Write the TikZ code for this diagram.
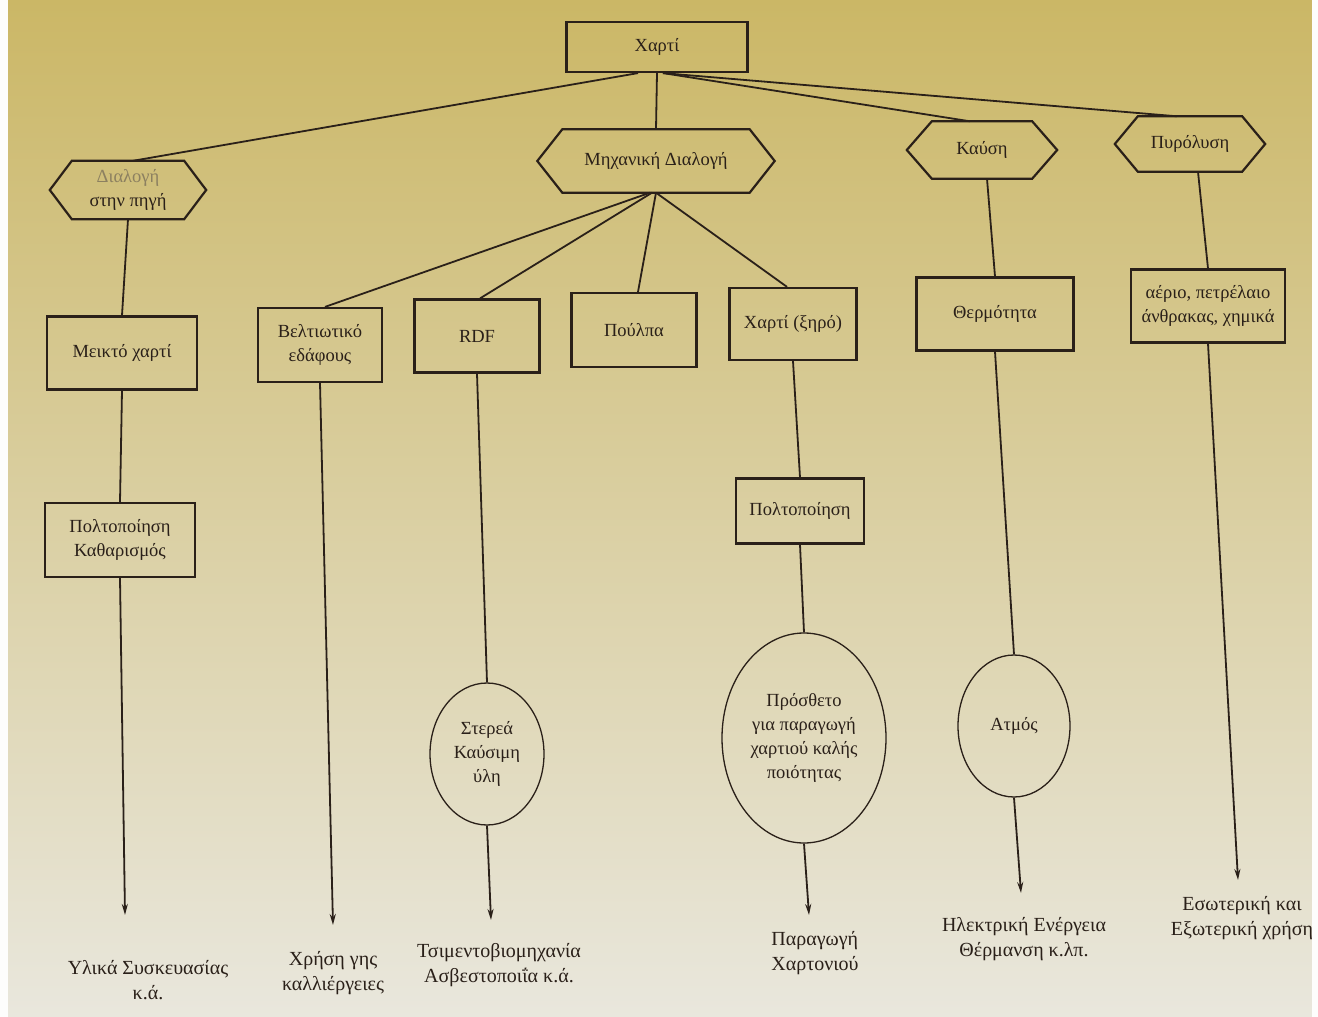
\documentclass[tikz,border=0pt]{standalone}
\usepackage{fontspec}
\setmainfont{Liberation Serif}
\usetikzlibrary{arrows.meta,calc,shapes.geometric}

\definecolor{ink}{HTML}{2A2019}
\definecolor{faded}{HTML}{8C8060}
\definecolor{paperTop}{HTML}{CBB766}
\definecolor{paperMid}{HTML}{DED28C}
\definecolor{paperBot}{HTML}{E9E7DD}

% hexagonal frame around a core node: #1 = node name, #2 = length of the side tips
\newcommand{\hexframe}[2]{%
  \draw[hexline] (#1.north west) -- (#1.north east) -- ($(#1.east)+(#2,0)$)
    -- (#1.south east) -- (#1.south west) -- ($(#1.west)+(-#2,0)$) -- cycle;}

\begin{document}
\begin{tikzpicture}[x=1pt,y=-1pt,
  label font/.style={font=\fontsize{18.5}{24}\selectfont},
  box/.style={draw=ink, line width=2.2pt, text=ink, align=center, inner sep=0pt, label font},
  hexcore/.style={text=ink, align=center, inner sep=0pt, label font},
  hexline/.style={draw=ink, line width=2.2pt, line join=miter},
  oval/.style={ellipse, draw=ink, line width=1.3pt, inner sep=0pt},
  ovaltext/.style={text=ink, align=center, inner sep=0pt, label font},
  link/.style={draw=ink, line width=1.8pt},
  flow/.style={link, -{Stealth[length=11pt,width=6pt]}},
  outcome/.style={text=ink, align=center, inner sep=0pt, font=\fontsize{20}{25}\selectfont}]

% paper sheet
\useasboundingbox (0,0) rectangle (1318,1017);
\shade[top color=paperTop, middle color=paperMid, bottom color=paperBot] (8,0) rectangle (1312,1017);
\fill[white!92!paperBot] (0,0) rectangle (8,1017);
\fill[white!92!paperBot] (1312,0) rectangle (1318,1017);

% top node
\node[box, minimum width=181pt, minimum height=50pt] (paper) at (657,47) {Χαρτί};

% process stages (hexagons)
\node[hexcore, minimum width=112pt, minimum height=58pt] (source) at (128,190)
  {\textcolor{faded}{Διαλογή}\\στην πηγή};
\hexframe{source}{22}
\node[hexcore, minimum width=187pt, minimum height=63pt] (mech) at (656,161) {Μηχανική Διαλογή};
\hexframe{mech}{25}
\node[hexcore, minimum width=100pt, minimum height=57pt] (burn) at (982,150) {Καύση};
\hexframe{burn}{25}
\node[hexcore, minimum width=104pt, minimum height=55pt] (pyro) at (1190,144) {Πυρόλυση};
\hexframe{pyro}{23}

% products (boxes)
\node[box, minimum width=150pt, minimum height=73pt] (mixed) at (122,353) {Μεικτό χαρτί};
\node[box, minimum width=150pt, minimum height=74pt] (clean) at (120,540) {Πολτοποίηση\\Καθαρισμός};
\node[box, minimum width=124pt, minimum height=74pt] (soil) at (320,345) {Βελτιωτικό\\εδάφους};
\node[box, minimum width=125pt, minimum height=73pt] (rdf) at (477,336) {RDF};
\node[box, minimum width=125pt, minimum height=74pt] (pulp) at (634,330) {Πούλπα};
\node[box, minimum width=127pt, minimum height=72pt] (dry) at (793,324) {Χαρτί (ξηρό)};
\node[box, minimum width=128pt, minimum height=65pt] (repulp) at (800,511) {Πολτοποίηση};
\node[box, minimum width=157pt, minimum height=73pt] (heat) at (995,314) {Θερμότητα};
\node[box, minimum width=154pt, minimum height=73pt] (fuels) at (1208,306) {αέριο, πετρέλαιο\\άνθρακας, χημικά};

% intermediate materials (ellipses)
\node[oval, minimum width=114pt, minimum height=142pt] (solid) at (487,754) {};
\node[ovaltext] (solidtxt) at (solid) {Στερεά\\Καύσιμη\\ύλη};
\node[oval, minimum width=164pt, minimum height=210pt] (additive) at (804,738) {};
\node[ovaltext] (additivetxt) at (additive) {Πρόσθετο\\για παραγωγή\\χαρτιού καλής\\ποιότητας};
\node[oval, minimum width=112pt, minimum height=142pt] (steam) at (1014,726) {};
\node[ovaltext] (steamtxt) at (steam) {Ατμός};

% arrow ends and final uses
\coordinate (e1) at (125,915);
\coordinate (e2) at (333,925);
\coordinate (e3) at (491,920);
\coordinate (e4) at (809,915);
\coordinate (e5) at (1021,893);
\coordinate (e6) at (1238,880);
\node[outcome] (use1) at (148,980) {Υλικά Συσκευασίας\\κ.ά.};
\node[outcome] (use2) at (333,973) {Χρήση γης\\καλλιέργειες};
\node[outcome] (use3) at (499,965) {Τσιμεντοβιομηχανία\\Ασβεστοποιΐα κ.ά.};
\node[outcome, align=left] (use4) at (815,953) {Παραγωγή\\Χαρτονιού};
\node[outcome] (use5) at (1024,939) {Ηλεκτρική Ενέργεια\\Θέρμανση κ.λπ.};
\node[outcome] (use6) at (1242,918) {Εσωτερική και\\Εξωτερική χρήση};

% connectors from the top node
\draw[link] ($(paper.south)+(-19,0)$) -- ($(source.north)+(5,0)$);
\draw[link] (paper.south) -- (mech.north);
\draw[link] ($(paper.south)+(6,0)$) -- ($(burn.north)+(-12,0)$);
\draw[link] ($(paper.south)+(6,0)$) -- ($(pyro.north)+(-13,0)$);

% connectors from mechanical sorting
\draw[link] ($(mech.south)+(-6,0)$) -- ($(soil.north)+(5,0)$);
\draw[link] ($(mech.south)+(-4,0)$) -- ($(rdf.north)+(3,0)$);
\draw[link] (mech.south) -- ($(pulp.north)+(4,0)$);
\draw[link] (mech.south) -- ($(dry.north)+(-6,0)$);

% vertical chains
\draw[link] (source.south) -- (mixed.north);
\draw[link] (mixed.south) -- (clean.north);
\draw[flow] (clean.south) -- (e1);
\draw[flow] (soil.south) -- (e2);
\draw[link] (rdf.south) -- (solid.north);
\draw[flow] (solid.south) -- (e3);
\draw[link] (dry.south) -- (repulp.north);
\draw[link] (repulp.south) -- (additive.north);
\draw[flow] (additive.south) -- (e4);
\draw[link] ($(burn.south)+(5,0)$) -- (heat.north);
\draw[link] (heat.south) -- (steam.north);
\draw[flow] (steam.south) -- (e5);
\draw[link] ($(pyro.south)+(8,0)$) -- (fuels.north);
\draw[flow] (fuels.south) -- (e6);
\end{tikzpicture}
\end{document}
